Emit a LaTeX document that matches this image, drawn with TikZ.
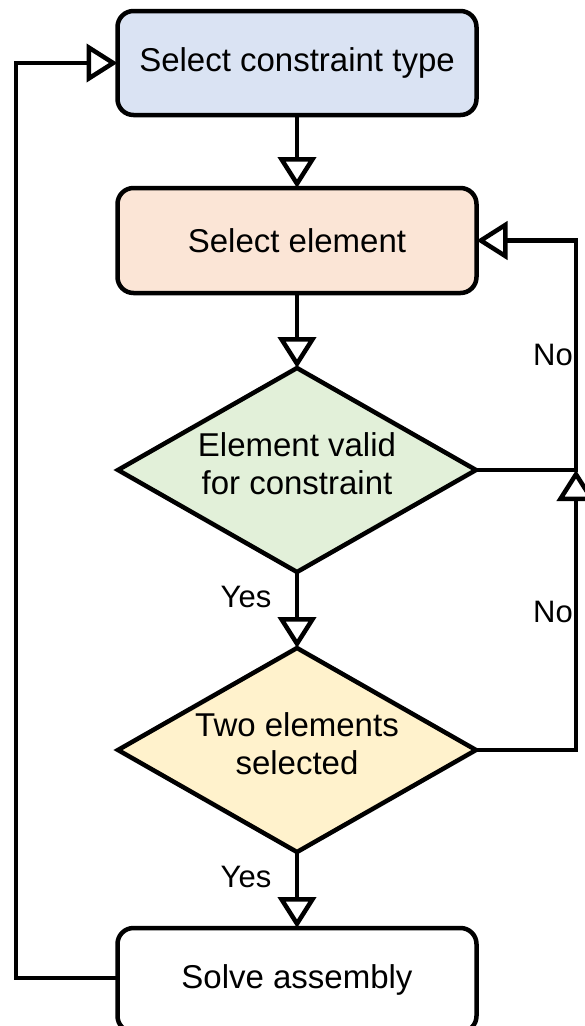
\documentclass[tikz,border=0pt]{standalone}
\usepackage{fontspec}
\setmainfont{Liberation Sans}
\usetikzlibrary{arrows.meta,shapes.geometric}
\definecolor{cblue}{HTML}{DAE3F3}
\definecolor{cpeach}{HTML}{FBE5D6}
\definecolor{cgreen}{HTML}{E2F0D9}
\definecolor{cyellow}{HTML}{FFF2CC}
\tikzset{
  procbox/.style={draw=black, line width=4.5pt, rounded corners=16pt, minimum width=359pt, outer sep=0pt, inner sep=0pt, align=center, font=\fontsize{33}{38}\selectfont},
  decbox/.style={draw=black, line width=4.5pt, diamond, shape aspect=1.755, minimum width=358pt, minimum height=204pt, inner sep=0pt, outer sep=0pt},
  dectext/.style={align=center, inner sep=0pt, font=\fontsize{33}{38}\selectfont},
  conn/.style={line width=4.5pt, -{Triangle[open,length=31pt,width=38pt]}},
  lbl/.style={font=\fontsize{31}{36}\selectfont, inner sep=0pt}
}
\begin{document}
\begin{tikzpicture}[x=1pt,y=-1pt]
\useasboundingbox (0,0) rectangle (584,1026);
\node[procbox, fill=cblue, minimum height=104pt] (b1) at (297,63) {Select constraint type};
\node[procbox, fill=cpeach, minimum height=105pt] (b2) at (297,240.5) {Select element};
\node[decbox, fill=cgreen] (d1) at (297,470) {};
\node[dectext] (t1) at (297,464) {Element valid\\for constraint};
\node[decbox, fill=cyellow] (d2) at (297,750) {};
\node[dectext] (t2) at (297,744) {Two elements\\selected};
\node[procbox, fill=white, minimum height=104pt] (b3) at (297,980) {Solve assembly};
\coordinate (c1) at (576,470);
\coordinate (c2) at (576,750);
\coordinate (c3) at (16,978);
\draw[conn] (b1.south) -- (b2.north);
\draw[conn] (b2.south) -- (d1.north);
\draw[conn] (d1.south) -- (d2.north);
\draw[conn] (d2.south) -- (b3.north);
\draw[conn] (d1.east) -- (c1) |- (b2.east);
\draw[conn] (d2.east) -- (c2) -- (c1);
\draw[conn] (b3.west |- c3) -- (c3) |- (b1.west);
\node[lbl] (y1) at (246,597) {Yes};
\node[lbl] (y2) at (246,877) {Yes};
\node[lbl, anchor=east] (n1) at (573,355) {No};
\node[lbl, anchor=east] (n2) at (573,612) {No};
\end{tikzpicture}
\end{document}
